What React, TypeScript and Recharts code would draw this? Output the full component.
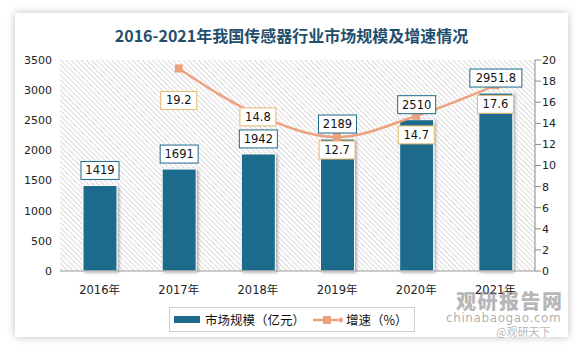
import { Bar, CartesianGrid, ComposedChart, LabelList, Line, XAxis, YAxis } from 'recharts'

const years = ['2016年', '2017年', '2018年', '2019年', '2020年', '2021年']
const marketSize = [1419, 1691, 1942, 2189, 2510, 2951.8]
const growthRate: (number | null)[] = [null, 19.2, 14.8, 12.7, 14.7, 17.6]
const leftTicks = [0, 500, 1000, 1500, 2000, 2500, 3000, 3500]
const rightTicks = [0, 2, 4, 6, 8, 10, 12, 14, 16, 18, 20]

const data = years.map((year, i) => ({ year, size: marketSize[i], rate: growthRate[i] }))

const BLUE = '#1e6b8c'
const ORANGE = '#eda27f'
const GOLD = '#e6b86c'
const numFont = '"DejaVu Sans", Verdana, sans-serif'
const cjkFont = '"DejaVu Sans", "Noto Sans CJK SC", sans-serif'

// how far each rate label sits below its point
const rateLabelDy = [0, 32, 2, 13, 19, 19]

const boxWidth = (text: string) => text.length * 7 + 10

const SizeLabel = (props: any) => {
  const { x, y, width, value } = props
  const text = String(value)
  const w = boxWidth(text)
  const cx = x + width / 2
  return (
    <g>
      <rect x={cx - w / 2} y={y - 24} width={w} height={18} fill="#fff" stroke={BLUE} strokeWidth={1} />
      <text x={cx} y={y - 11} textAnchor="middle" fontSize={11.5} fontFamily={numFont} fill="#111">{text}</text>
    </g>
  )
}

const RateLabel = (props: any) => {
  const { x, y, value, index } = props
  if (value == null) return null
  const text = String(value)
  const w = boxWidth(text) - 2
  const cy = y + rateLabelDy[index]
  return (
    <g>
      <rect x={x - w / 2} y={cy - 9} width={w} height={18} fill="#fff" stroke={GOLD} strokeWidth={1} />
      <text x={x} y={cy + 4} textAnchor="middle" fontSize={11.5} fontFamily={numFont} fill="#111">{text}</text>
    </g>
  )
}

const SquareDot = (props: any) => {
  const { cx, cy, value } = props
  if (value == null || cx == null) return null
  return <rect x={cx - 4} y={cy - 4} width={8} height={8} fill={ORANGE} />
}

export default function App() {
  return (
    <div style={{ position: 'relative', width: 583, height: 352, background: '#fff' }}>
      <style>{'body{margin:0}'}</style>
      <svg width={0} height={0} style={{ position: 'absolute' }}>
        <defs>
          <pattern id="hatch" width={3.6} height={8} patternUnits="userSpaceOnUse" patternTransform="rotate(-45)">
            <rect x={0} y={0} width={1} height={8} fill="#dadada" />
          </pattern>
          <filter id="barShadow" x="-30%" y="-10%" width="160%" height="120%">
            <feDropShadow dx={1.5} dy={1} stdDeviation={1.5} floodColor="#000" floodOpacity={0.35} />
          </filter>
        </defs>
      </svg>
      <div style={{
        position: 'absolute', left: 15, top: 13, width: 553, height: 324, background: '#fff',
        boxShadow: '0 0 8px rgba(0,0,0,0.25)',
      }} />
      <div style={{
        position: 'absolute', left: 0, top: 24, width: 583, textAlign: 'center', fontSize: 16, fontWeight: 'bold',
        color: '#1f4e6e', fontFamily: '"Noto Sans CJK SC", sans-serif', lineHeight: '22px',
      }}>
        2016-2021年我国传感器行业市场规模及增速情况
      </div>
      <div style={{ position: 'absolute', left: 0, top: 0 }}>
        <ComposedChart width={583} height={352} data={data} margin={{ top: 60, right: 8, bottom: 56, left: 15 }}>
          <CartesianGrid horizontal={false} vertical={false} fill="url(#hatch)" />
          <XAxis dataKey="year" height={25} tickLine={false} tickSize={6} tickMargin={9}
                 axisLine={{ stroke: '#9a9a9a' }}
                 tick={{ fontSize: 11.5, fill: '#222', fontFamily: cjkFont }} />
          <YAxis yAxisId="left" width={45} domain={[0, 3500]} ticks={leftTicks} axisLine={false} tickLine={false}
                 tick={{ fontSize: 11, fill: '#222', fontFamily: numFont }} />
          <YAxis yAxisId="right" orientation="right" width={40} domain={[0, 20]} ticks={rightTicks}
                 axisLine={{ stroke: '#8a8a8a' }} tickLine={{ stroke: '#8a8a8a' }} tickMargin={1}
                 tick={{ fontSize: 11, fill: '#222', fontFamily: numFont }} />
          <Bar yAxisId="left" dataKey="size" fill={BLUE} barSize={34} stroke="#fff" strokeWidth={1}
               style={{ filter: 'url(#barShadow)' }} isAnimationActive={false}>
            <LabelList dataKey="size" content={SizeLabel} />
          </Bar>
          <Line yAxisId="right" type="monotone" dataKey="rate" stroke={ORANGE} strokeWidth={2.5}
                dot={SquareDot} activeDot={false} isAnimationActive={false}>
            <LabelList dataKey="rate" content={RateLabel} />
          </Line>
        </ComposedChart>
      </div>
      <div style={{
        position: 'absolute', left: 169, top: 307, width: 244, height: 23, border: '1px solid #d0d0d0',
        display: 'flex', alignItems: 'center', fontFamily: '"Noto Sans CJK SC", sans-serif', fontSize: 12.5, color: '#111',
      }}>
        <span style={{ display: 'inline-block', width: 26, height: 7, background: BLUE, marginLeft: 4, marginRight: 5 }} />
        <span>市场规模（亿元）</span>
        <svg width={30} height={12} style={{ marginLeft: 8, marginRight: 3 }}>
          <line x1={0} y1={6} x2={28} y2={6} stroke={ORANGE} strokeWidth={2.5} />
          <rect x={10} y={2} width={8} height={8} fill={ORANGE} />
          <path d="M25,6 L28,3 L31,6 L28,9 Z" fill={ORANGE} />
        </svg>
        <span>增速（%）</span>
      </div>
      <div style={{
        position: 'absolute', left: 456, top: 291, fontFamily: '"Noto Sans CJK SC", sans-serif', fontWeight: 900,
        fontSize: 20, color: 'rgba(120,120,120,0.55)', letterSpacing: 1.5, lineHeight: '20px',
      }}>
        观研报告网
      </div>
      <div style={{
        position: 'absolute', left: 446, top: 312, fontFamily: '"DejaVu Sans", sans-serif',
        fontSize: 12, color: 'rgba(120,120,120,0.6)', letterSpacing: 0.6, lineHeight: '12px',
      }}>
        chinabaogao.com
      </div>
      <div style={{
        position: 'absolute', left: 496, top: 326, fontFamily: '"Noto Sans CJK SC", sans-serif',
        fontSize: 11, color: 'rgba(150,150,150,0.7)', lineHeight: '11px',
      }}>
        @观研天下
      </div>
    </div>
  )
}
